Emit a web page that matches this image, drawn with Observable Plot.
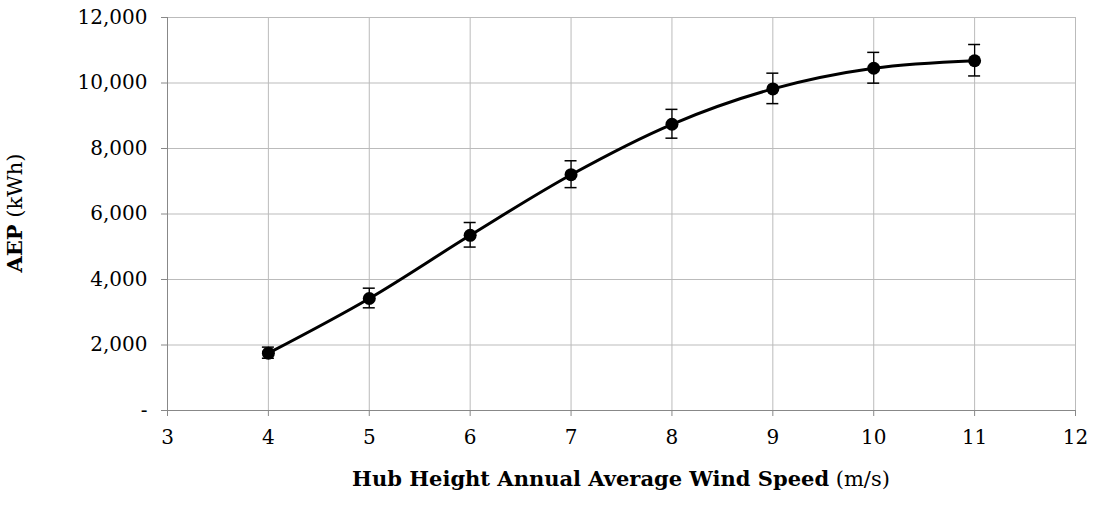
<!DOCTYPE html>
<html>
<head>
<meta charset="utf-8">
<script src="https://cdn.jsdelivr.net/npm/d3@7"></script>
<script src="https://cdn.jsdelivr.net/npm/@observablehq/plot@0.6"></script>
<style>
  body { margin: 0; background: #fff; }
</style>
</head>
<body>
<div id="chart"></div>
<script>
const speeds = [4, 5, 6, 7, 8, 9, 10, 11]
const aep = [1750, 3420, 5350, 7200, 8740, 9820, 10450, 10680]
const err = [170, 300, 375, 410, 440, 465, 470, 480]
const xTicks = [3, 4, 5, 6, 7, 8, 9, 10, 11, 12]
const yTicks = [0, 2000, 4000, 6000, 8000, 10000, 12000]

const data = speeds.map((s, i) => ({speed: s, aep: aep[i], lo: aep[i] - err[i], hi: aep[i] + err[i]}))
const yFmt = d => d === 0 ? "-" : d3.format(",")(d)

const chart = Plot.plot({
  width: 1095,
  height: 506,
  marginLeft: 167,
  marginRight: 20,
  marginTop: 17,
  marginBottom: 96,
  style: {fontSize: "20px", fontFamily: "DejaVu Serif, serif", color: "#000", background: "#fff"},
  x: {type: "linear", domain: [3, 12]},
  y: {type: "linear", domain: [0, 12000]},
  marks: [
    Plot.gridX(xTicks.slice(1), {stroke: "#bbb", strokeOpacity: 1}),
    Plot.gridY(yTicks.slice(1), {stroke: "#bbb", strokeOpacity: 1}),
    Plot.ruleX([3], {stroke: "#888"}),
    Plot.ruleY([0], {stroke: "#888"}),
    Plot.axisX(xTicks, {tickSize: 6, tickPadding: 13, stroke: "#888", label: null}),
    Plot.axisY(yTicks, {tickSize: 6, tickPadding: 14, stroke: "#888", label: null, tickFormat: yFmt}),
    Plot.line(data, {x: "speed", y: "aep", curve: "catmull-rom", stroke: "#000", strokeWidth: 3}),
    Plot.ruleX(data, {x: "speed", y1: "lo", y2: "hi", stroke: "#000", strokeWidth: 1.3}),
    Plot.dot(data, {x: "speed", y: "aep", r: 6.5, fill: "#000"})
  ]
})

d3.select('#chart').append(() => chart)

const sx = chart.scale("x"), sy = chart.scale("y")
const svg = d3.select(chart)
// error bar caps
const caps = svg.append("g").attr("stroke", "#000").attr("stroke-width", 1.5)
data.forEach(d => {
  [d.lo, d.hi].forEach(v => {
    caps.append("line")
      .attr("x1", sx.apply(d.speed) - 6).attr("x2", sx.apply(d.speed) + 6)
      .attr("y1", sy.apply(v)).attr("y2", sy.apply(v))
  })
})

// axis titles
svg.append("text").attr("x", 621).attr("y", 486).attr("text-anchor", "middle")
  .attr("font-size", 21)
  .call(t => {
    t.append("tspan").attr("font-weight", "bold").text("Hub Height Annual Average Wind Speed")
    t.append("tspan").text(" (m/s)")
  })
svg.append("text").attr("transform", "translate(22,213) rotate(-90)").attr("text-anchor", "middle")
  .attr("font-size", 21)
  .call(t => {
    t.append("tspan").attr("font-weight", "bold").text("AEP")
    t.append("tspan").text(" (kWh)")
  })
</script>
</body>
</html>
